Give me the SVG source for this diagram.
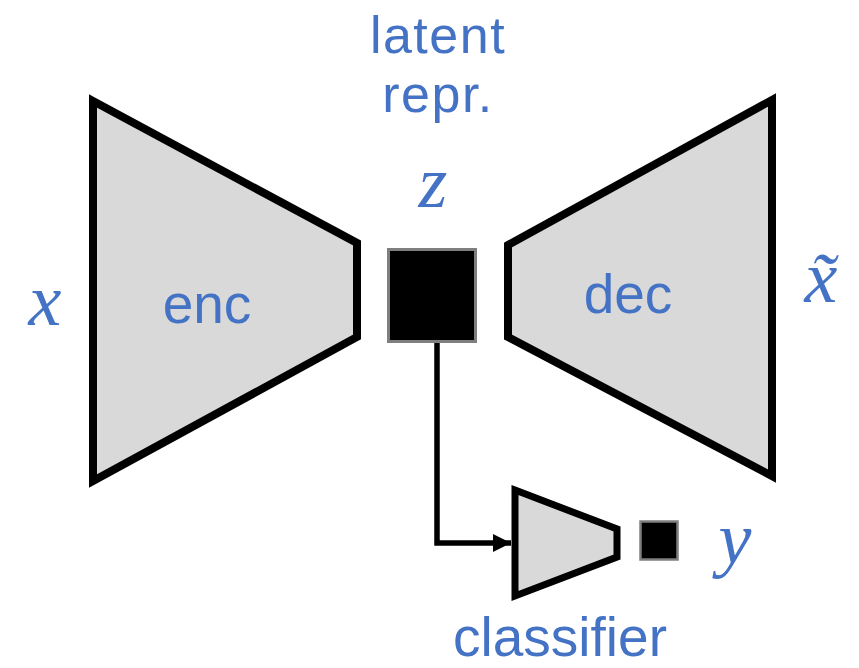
<svg xmlns="http://www.w3.org/2000/svg" width="859" height="668" viewBox="0 0 859 668">
<defs>
<style>
.block{fill:#d9d9d9;stroke:#000;stroke-width:8;stroke-linejoin:miter}
.lat{fill:#000;stroke:#7f7f7f;stroke-width:3}
.lbl{font-family:"Liberation Sans",Arial,sans-serif;font-size:55px;fill:#4472c4;text-anchor:middle}
.top{font-size:52px;letter-spacing:1.5px}
.math{font-family:"Liberation Serif","DejaVu Serif",serif;font-style:italic;font-size:74px;fill:#4472c4;text-anchor:middle}
.conn{fill:none;stroke:#000;stroke-width:5.5}
</style>
<marker id="arrow" viewBox="0 0 10 10" refX="10" refY="5" markerWidth="3.3" markerHeight="3.5" orient="auto" markerUnits="strokeWidth">
<path d="M0,0 L10,5 L0,10 z" fill="#000"/>
</marker>
</defs>
<rect width="859" height="668" fill="#fff"/>
<g id="connectors">
<polyline class="conn" points="437,343 437,543 511,543" marker-end="url(#arrow)"/>
</g>
<g id="encoder">
<polygon class="block" points="93,101 357,243 357,337 93,481"/>
<text class="lbl" x="207" y="323">enc</text>
</g>
<g id="decoder">
<polygon class="block" points="508,245 772,100 772,476 508,337"/>
<text class="lbl" x="628" y="313">dec</text>
</g>
<g id="latent">
<rect class="lat" x="388.5" y="249.5" width="87" height="92"/>
<text class="lbl top" x="438" y="53"><tspan x="438">latent</tspan><tspan x="438" dy="59">repr.</tspan></text>
<text class="math" x="433" y="207">z</text>
</g>
<g id="classifier">
<polygon class="block" style="stroke-width:7" points="515,490 617,529 617,557 515,596"/>
<text class="lbl" x="560" y="656">classifier</text>
</g>
<g id="output-y">
<rect x="640.5" y="521.5" width="37" height="38" fill="#000" stroke="#7f7f7f" stroke-width="2.5"/>
<text class="math" x="735" y="563">y</text>
</g>
<g id="input-x">
<text class="math" x="45" y="325">x</text>
</g>
<g id="output-xtilde">
<text class="math" x="821" y="302">x&#x0303;</text>
</g>
</svg>
